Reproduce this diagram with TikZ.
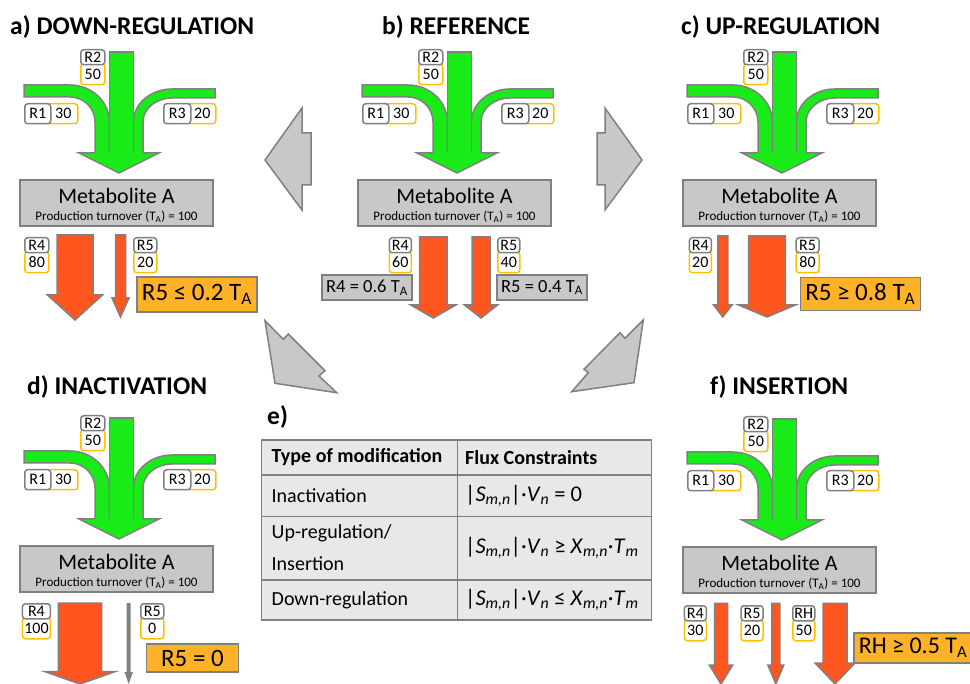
\documentclass[tikz,border=0pt]{standalone}
\usepackage{fontspec}
\setmainfont{Carlito}
\usepackage{tikz}
\usetikzlibrary{positioning}

\definecolor{flowgreen}{RGB}{25,235,25}
\definecolor{flowred}{RGB}{255,85,30}
\definecolor{edgegray}{RGB}{128,128,128}
\definecolor{boxgray}{RGB}{200,200,200}
\definecolor{consorange}{RGB}{255,178,40}
\definecolor{valyellow}{RGB}{255,192,0}
\definecolor{tablegray}{RGB}{232,232,232}

\newcommand{\fsz}[1]{\fontsize{#1}{#1}\selectfont}

\tikzset{
  inband/.style={fill=flowgreen, draw=edgegray, line width=1.5pt},
  outarrow/.style={fill=flowred, draw=edgegray, line width=1.5pt},
  deadarrow/.style={fill=edgegray},
  bigarrow/.style={fill=boxgray, draw=edgegray, line width=1.5pt},
  namebox/.style={draw=edgegray, fill=white, rounded corners=3pt, line width=1.5pt, inner sep=0pt, font=\fsz{16}, anchor=north west},
  valbox/.style={draw=valyellow, fill=white, rounded corners=3pt, line width=1.5pt, inner sep=0pt, font=\fsz{16}, anchor=north west},
  metabox/.style={draw=edgegray, fill=boxgray, line width=1.5pt, inner sep=0pt},
  refbox/.style={draw=edgegray, fill=boxgray, line width=1.5pt, inner sep=0pt, font=\fsz{18.5}},
  consbox/.style={draw=edgegray, fill=consorange, line width=1.5pt, inner sep=0pt, font=\fsz{25}},
  paneltitle/.style={font=\fsz{25.5}\bfseries, inner sep=0pt, anchor=base west},
  cell/.style={font=\fsz{20}, inner sep=0pt, anchor=west},
  cellhead/.style={cell, font=\fsz{20}\bfseries},
  formula/.style={cell, font=\fsz{22.5}}
}

% vertical label pair: name, x, y, width, reaction, flux
\newcommand{\rpairv}[6]{%
  \node[valbox, minimum width=#4, minimum height=21] (#1v) at (#2,{#3+14}) {#6};
  \node[namebox, minimum width=#4, minimum height=15] (#1n) at (#2,#3) {#5};
}
% horizontal label pair: name, x, y, name width, flux width, reaction, flux
\newcommand{\rpairh}[7]{%
  \node[valbox, minimum width=#5, minimum height=20] (#1v) at ({#2+#4-5},#3) {\hspace*{3pt}#7};
  \node[namebox, minimum width=#4, minimum height=20] (#1n) at (#2,#3) {#6};
}
% outgoing arrow: [style] centre x, top, body width, head width, head base, tip
\newcommand{\outflow}[7][outarrow]{%
  \path[#1] ({#2-#4/2},#3) -- ({#2+#4/2},#3) -- ({#2+#4/2},#6) -- ({#2+#5/2},#6)
    -- (#2,#7) -- ({#2-#5/2},#6) -- ({#2-#4/2},#6) -- cycle;
}
% green inflow R1, R2, R3 and the metabolite box
\newcommand{\inflow}{%
  % R1 band
  \path[inband] (24,85) -- (70,85) arc[start angle=-90, end angle=0, x radius=39.4, y radius=37]
    -- (109.4,154) -- (95,154) -- (95,122) arc[start angle=0, end angle=-90, x radius=25, y radius=25]
    -- (24,97) -- cycle;
  % R3 band
  \path[inband] (215,89) -- (172,89) arc[start angle=-90, end angle=-180, x radius=38.6, y radius=33]
    -- (133.4,154) -- (143,154) -- (143,122) arc[start angle=180, end angle=270, x radius=29, y radius=24]
    -- (215,98) -- cycle;
  % R2 band
  \path[inband] (109.4,52) rectangle (133.4,154);
  % common head
  \fill[flowgreen] (79,153) -- (159,153) -- (119,173) -- cycle;
  \draw[edgegray, line width=1.5pt] (95,153) -- (79,153) -- (119,173) -- (159,153) -- (143,153);
  \rpairv{r2}{80}{49}{24}{R2}{50}
  \rpairh{r1}{24}{103}{26}{32}{R1}{30}
  \rpairh{r3}{163}{103}{27}{30}{R3}{20}
  \node[metabox, minimum width=193, minimum height=46] (met) at (116.5,203) {};
  \node[font=\fsz{22}, inner sep=0pt] (metname) at (116.5,196) {Metabolite A};
  \node[font=\fsz{13}, inner sep=0pt] (metturn) at (116.5,216.5) {Production turnover (T\textsubscript{A}) = 100};
}

\begin{document}
\begin{tikzpicture}[x=1pt, y=-1pt]
\useasboundingbox (0,0) rectangle (970,684);

% a) down-regulation
\begin{scope}[name prefix=a-]
  \node[paneltitle] (title) at (10,35) {a) DOWN-REGULATION};
  \inflow
  \outflow{75}{235}{36}{55}{295}{320}
  \outflow{120.5}{235}{10}{17}{298}{317}
  \rpairv{r4}{24}{237}{24}{R4}{80}
  \rpairv{r5}{133}{237}{23}{R5}{20}
  \node[consbox, minimum width=120, minimum height=35] (cons) at (197,294.5) {R5 ≤ 0.2 T\textsubscript{A}};
\end{scope}

% b) reference
\begin{scope}[shift={(338,0)}, name prefix=b-]
  \node[paneltitle] (title) at (44,35) {b) REFERENCE};
  \inflow
  \outflow{95.3}{237}{27.4}{45}{305}{318}
  \outflow{143}{237}{18}{33}{305}{318}
  \rpairv{r4}{50.6}{237}{22}{R4}{60}
  \rpairv{r5}{159}{237}{22}{R5}{40}
  \node[refbox, minimum width=90, minimum height=25] (r4eq) at (29,287.5) {R4 = 0.6 T\textsubscript{A}};
  \node[refbox, minimum width=90, minimum height=25] (r5eq) at (204,287.5) {R5 = 0.4 T\textsubscript{A}};
\end{scope}

% c) up-regulation
\begin{scope}[shift={(663,0)}, name prefix=c-]
  \node[paneltitle] (title) at (18,35) {c) UP-REGULATION};
  \inflow
  \outflow{59.8}{236}{10}{18.4}{305}{317}
  \outflow{104}{236}{36.7}{56.7}{305}{317}
  \rpairv{r4}{25.6}{237}{22}{R4}{20}
  \rpairv{r5}{132.3}{237}{23}{R5}{80}
  \node[consbox, minimum width=120, minimum height=33] (cons) at (197.3,294) {R5 ≥ 0.8 T\textsubscript{A}};
\end{scope}

% d) inactivation
\begin{scope}[shift={(0,366)}, name prefix=d-]
  \node[paneltitle] (title) at (27,29) {d) INACTIVATION};
  \inflow
  \outflow{80}{237}{43.4}{70}{305.7}{318}
  \outflow[deadarrow]{128.7}{237}{4}{8.5}{306}{318}
  \rpairv{r4}{21.7}{237}{28}{R4}{100}
  \rpairv{r5}{140}{237}{23}{R5}{0}
  \node[consbox, minimum width=92, minimum height=28] (cons) at (192.5,292) {R5 = 0};
\end{scope}

% f) insertion
\begin{scope}[shift={(663,367)}, name prefix=f-]
  \node[paneltitle] (title) at (47,28) {f) INSERTION};
  \inflow
  \outflow{58}{236.3}{13}{23.4}{298}{317}
  \outflow{112.8}{236.3}{8}{16}{298}{317}
  \outflow{172}{236.3}{24}{40}{296}{317}
  \rpairv{r4}{20.6}{238}{22}{R4}{30}
  \rpairv{r5}{77.3}{238}{22}{R5}{20}
  \rpairv{rh}{129}{238}{22}{RH}{50}
  \node[consbox, anchor=west, minimum width=125, minimum height=30, inner xsep=5pt, font=\fsz{24}] (cons) at (190,281) {\makebox[115pt][l]{RH ≥ 0.5 T\textsubscript{A}}};
\end{scope}

% big grey arrows between the panels
\path[bigarrow] (265,160) -- (302,108) -- (302,133) -- (311,133) -- (311,185) -- (302,185) -- (302,210) -- cycle;
\path[bigarrow] (642,160) -- (605,108) -- (605,133) -- (597,133) -- (597,185) -- (605,185) -- (605,210) -- cycle;
\path[bigarrow] (265,320.7) -- (283.3,339.3) -- (288.3,334) -- (325,370.7) -- (319,376) -- (336.7,392.7) -- (275,383.3) -- cycle;
\path[bigarrow] (643.3,320) -- (634,382.7) -- (571.7,391.7) -- (588.3,372.7) -- (584,369.3) -- (620,332.7) -- (625,338.3) -- cycle;

% e) table of constraints
\node[paneltitle] (etitle) at (267,425) {e)};
\fill[tablegray] (261.7,440) rectangle (651.7,620);
\draw[edgegray, line width=1.2pt] (261.7,440) rectangle (651.7,620)
  (261.7,475) -- (651.7,475) (261.7,516.7) -- (651.7,516.7) (261.7,580) -- (651.7,580)
  (457.3,440) -- (457.3,620);
\node[cellhead] (thmod) at (271.5,457.5) {Type of modification};
\node[cellhead] (thflux) at (465,457.5) {Flux Constraints};
\node[cell] (tinact) at (271.5,496) {Inactivation};
\node[formula] (tinactf) at (465,496) {|\textit{S}\textsubscript{\textit{m,n}}|·\textit{V}\textsubscript{\textit{n}} = 0};
\node[cell] (tup) at (271.5,533.5) {Up-regulation/};
\node[cell] (tins) at (271.5,563.5) {Insertion};
\node[formula] (tupf) at (465,548) {|\textit{S}\textsubscript{\textit{m,n}}|·\textit{V}\textsubscript{\textit{n}} ≥ \textit{X}\textsubscript{\textit{m,n}}·\textit{T}\textsubscript{\textit{m}}};
\node[cell] (tdown) at (271.5,600) {Down-regulation};
\node[formula] (tdownf) at (465,600) {|\textit{S}\textsubscript{\textit{m,n}}|·\textit{V}\textsubscript{\textit{n}} ≤ \textit{X}\textsubscript{\textit{m,n}}·\textit{T}\textsubscript{\textit{m}}};
\end{tikzpicture}
\end{document}
